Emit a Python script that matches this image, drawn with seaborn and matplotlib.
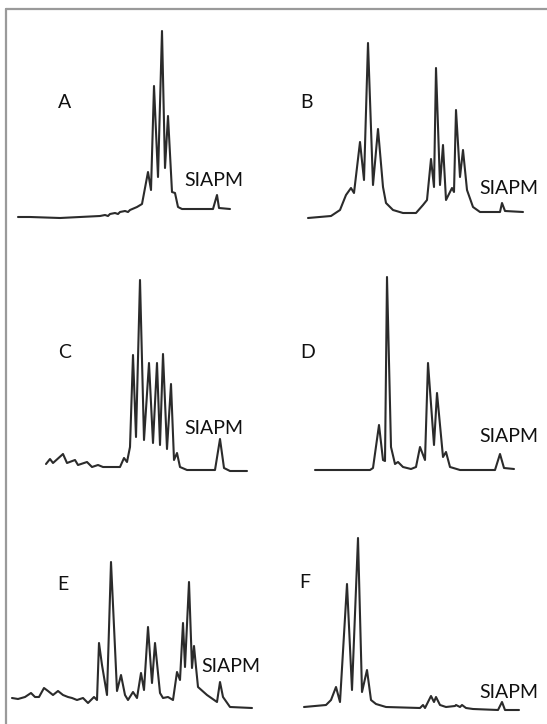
import matplotlib
matplotlib.use("Agg")
import matplotlib.pyplot as plt
import seaborn as sns
import pandas as pd
from matplotlib.lines import Line2D

sns.set_style("white")
plt.rcParams['font.family'] = ['Lato', 'DejaVu Sans']

# traces: (retention, signal) per panel
a_t = [18, 30, 60, 80, 100, 105, 108, 110, 115, 118, 120, 125, 128, 130, 137, 142, 148, 151, 154, 158, 162, 165, 168, 172, 175, 178, 182, 213, 217, 219, 230]
a_s = [23, 23, 22, 23, 24, 25, 24, 26, 27, 26, 28, 29, 28, 30, 33, 36, 68, 50, 154, 63, 209, 72, 124, 48, 47, 33, 31, 31, 45, 32, 31]

b_t = [35, 58, 67, 73, 78, 81, 87, 91, 95, 100, 105, 110, 113, 120, 130, 143, 150, 154, 158, 161, 163, 167, 170, 173, 179, 181, 183, 187, 190, 194, 200, 207, 227, 229, 232, 250]
b_s = [22, 24, 30, 45, 52, 47, 98, 60, 197, 55, 111, 53, 37, 30, 27, 27, 35, 40, 81, 53, 172, 55, 95, 40, 52, 48, 130, 63, 90, 50, 33, 28, 28, 37, 29, 28]

c_t = [46, 50, 53, 63, 67, 75, 78, 87, 92, 98, 103, 120, 124, 127, 130, 133, 136, 140, 144, 149, 153, 157, 160, 163, 167, 171, 174, 177, 180, 187, 215, 220, 224, 230, 247]
c_s = [16, 21, 17, 26, 17, 20, 15, 18, 13, 15, 13, 13, 22, 18, 33, 125, 43, 200, 40, 117, 37, 117, 35, 126, 31, 96, 20, 27, 13, 10, 10, 41, 12, 9, 9]

d_t = [42, 97, 100, 106, 110, 112, 114, 118, 122, 125, 130, 138, 143, 147, 152, 155, 161, 164, 170, 173, 177, 187, 222, 227, 231, 241]
d_s = [10, 10, 12, 55, 20, 19, 203, 33, 16, 18, 13, 11, 13, 33, 20, 117, 35, 87, 23, 28, 13, 10, 10, 26, 12, 11]

e_t = [12, 18, 25, 31, 35, 39, 44, 48, 53, 58, 63, 68, 72, 77, 83, 88, 94, 97, 99, 102, 107, 111, 117, 121, 125, 128, 133, 137, 141, 144, 148, 152, 155, 160, 163, 168, 173, 177, 180, 183, 185, 189, 192, 194, 196, 198, 207, 217, 220, 223, 230, 252]
e_s = [26, 25, 27, 31, 27, 27, 36, 33, 29, 33, 29, 27, 26, 24, 26, 21, 27, 24, 81, 59, 29, 162, 33, 49, 29, 24, 32, 26, 51, 34, 97, 41, 81, 31, 26, 27, 24, 52, 44, 101, 57, 142, 56, 78, 57, 37, 29, 22, 42, 27, 17, 16]

f_t = [31, 53, 58, 63, 67, 74, 79, 85, 89, 94, 98, 103, 113, 147, 150, 152, 158, 161, 163, 167, 173, 182, 183, 187, 189, 193, 200, 225, 229, 232, 246]
f_s = [17, 19, 24, 37, 22, 140, 34, 186, 32, 54, 24, 20, 17, 16, 19, 16, 28, 22, 27, 19, 17, 18, 19, 17, 19, 16, 15, 14, 22, 14, 14]

letters = ['A', 'B', 'C', 'D', 'E', 'F']
traces = [(a_t, a_s), (b_t, b_s), (c_t, c_s), (d_t, d_s), (e_t, e_s), (f_t, f_s)]

W, H = 547, 724
fig = plt.figure(figsize=(W / 100, H / 100), dpi=100)

cells = [(0, 0, 273, 240), (273, 0, 274, 240),
         (0, 240, 273, 240), (273, 240, 274, 240),
         (0, 480, 273, 244), (273, 480, 274, 244)]
letter_xy = [(65, 137), (33, 137), (65, 127), (35, 127), (63, 140), (32, 141)]
siapm_xy = [(184, 59), (206, 52), (184, 51), (206, 43), (201, 58), (206, 32)]

for i, (x0, y0, w, h) in enumerate(cells):
    ax = fig.add_axes([x0 / W, (H - y0 - h) / H, w / W, h / H])
    t, s = traces[i]
    df = pd.DataFrame({'t': t, 's': s})
    sns.lineplot(data=df, x='t', y='s', ax=ax, sort=False, estimator=None,
                 color='#2b2b2b', linewidth=1.5, solid_joinstyle='round')
    ax.set_xlim(0, w)
    ax.set_ylim(0, h)
    ax.axis('off')
    ax.text(*letter_xy[i], letters[i], fontsize=14, ha='center', va='center', color='#111111')
    ax.text(*siapm_xy[i], 'SIAPM', fontsize=14, ha='left', va='center', color='#111111')

# frame lines (top and left)
fig.add_artist(Line2D([6 / W, 1], [1 - 9 / H, 1 - 9 / H], color='#9a9a9a', linewidth=1.6))
fig.add_artist(Line2D([6 / W, 6 / W], [1 - 9 / H, 0], color='#9a9a9a', linewidth=1.6))

fig.savefig('out.png', dpi=100)
